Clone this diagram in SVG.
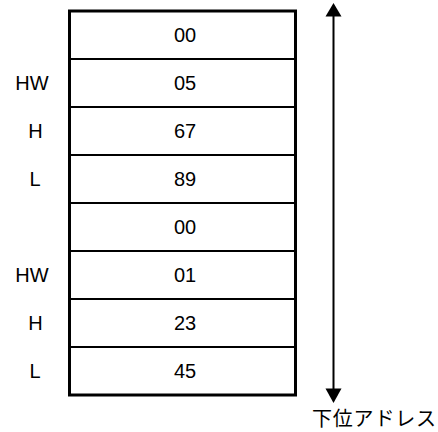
<svg xmlns="http://www.w3.org/2000/svg" width="438" height="432" viewBox="0 0 438 432">
<style>
  .t{font-family:"Liberation Sans",Arial,sans-serif;font-size:20px;fill:#000}
  .c{text-anchor:middle}
  .sep{stroke:#000;stroke-width:2}
  .jp{font-family:"Noto Sans CJK JP","Noto Sans",sans-serif;font-size:20px;letter-spacing:0.8px;fill:#000}
</style>
<rect x="0" y="0" width="438" height="432" fill="#fff"/>
<g id="memory">
  <rect x="69.5" y="11" width="226" height="384" fill="#fff" stroke="#000" stroke-width="3"/>
</g>
<g id="separators">
  <line class="sep" x1="69.5" y1="59" x2="295.5" y2="59"/>
  <line class="sep" x1="69.5" y1="107" x2="295.5" y2="107"/>
  <line class="sep" x1="69.5" y1="155" x2="295.5" y2="155"/>
  <line class="sep" x1="69.5" y1="203" x2="295.5" y2="203"/>
  <line class="sep" x1="69.5" y1="251" x2="295.5" y2="251"/>
  <line class="sep" x1="69.5" y1="299" x2="295.5" y2="299"/>
  <line class="sep" x1="69.5" y1="347" x2="295.5" y2="347"/>
</g>
<g id="cell0"><text class="t c" x="185" y="41.5">00</text></g>
<g id="cell1"><text class="t c" x="185" y="89.5">05</text></g>
<g id="cell2"><text class="t c" x="185" y="137.5">67</text></g>
<g id="cell3"><text class="t c" x="185" y="185.5">89</text></g>
<g id="cell4"><text class="t c" x="185" y="233.5">00</text></g>
<g id="cell5"><text class="t c" x="185" y="281.5">01</text></g>
<g id="cell6"><text class="t c" x="185" y="329.5">23</text></g>
<g id="cell7"><text class="t c" x="185" y="377.5">45</text></g>
<g id="labels">
  <text class="t c" x="32" y="89.5">HW</text>
  <text class="t c" x="35.5" y="137.5">H</text>
  <text class="t c" x="35" y="185.5">L</text>
  <text class="t c" x="32" y="281.5">HW</text>
  <text class="t c" x="35.5" y="329.5">H</text>
  <text class="t c" x="35" y="377.5">L</text>
</g>
<g id="connectors">
  <line x1="333.5" y1="15" x2="333.5" y2="390" stroke="#000" stroke-width="2"/>
  <polygon points="333.5,3 341.5,16.5 325.5,16.5" fill="#000"/>
  <polygon points="333.5,403 341.5,388.5 325.5,388.5" fill="#000"/>
</g>
<g id="address-label">
  <text class="jp" x="312" y="426">下位アドレス</text>
</g>
</svg>
